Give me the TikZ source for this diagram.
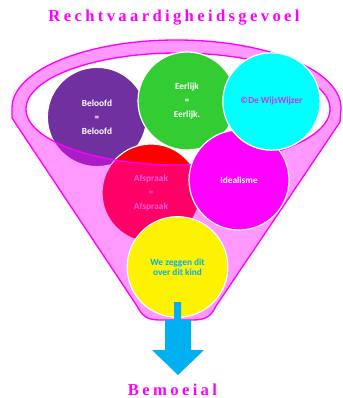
\documentclass[tikz,border=0pt]{standalone}
\usepackage{fontspec}
\setmainfont{Liberation Serif}
\newfontfamily\bubblefont{Carlito}
\usepackage{xcolor}
\usepackage{tikz}
\usetikzlibrary{positioning}

\definecolor{funnelmag}{RGB}{255,0,255}
\definecolor{belpurple}{RGB}{112,48,160}
\definecolor{eergreen}{RGB}{51,204,51}
\definecolor{wijscyan}{RGB}{0,255,255}
\definecolor{wijstext}{RGB}{204,51,230}
\definecolor{afspink}{RGB}{255,150,200}
\definecolor{pijlblue}{RGB}{0,176,240}

\begin{document}
\begin{tikzpicture}[x=0.75pt, y=-0.75pt,
    bubble/.style={circle, draw=white, line width=0.9pt, inner sep=0pt,
      minimum size=74pt, align=center, text=white,
      font=\bubblefont\bfseries\fontsize{7}{10.5}\selectfont},
    headline/.style={text=funnelmag, inner sep=0pt,
      font=\bfseries\fontsize{12.5}{14}\selectfont\addfontfeature{LetterSpace=20}}]
      \useasboundingbox[fill=white] (0,0) rectangle (342,398);

      % Title
      \node[headline] (title) at (174, 18) {Rechtvaardigheidsgevoel};

      % Circles behind the funnel front
      \node[bubble, fill=belpurple, minimum size=74.5pt] (beloofd) at (97, 117) {Beloofd\\=\\Beloofd};
      \node[bubble, fill=red, text=afspink, minimum size=73.5pt] (afspraak) at (151, 193) {Afspraak\\=\\Afspraak};

      % Funnel
      \path[fill=funnelmag, fill opacity=0.4, draw=funnelmag, line width=1pt, even odd rule]
        (12,118) -- (12,108) arc[start angle=180, end angle=360, x radius=164.5, y radius=68]
        -- (340,122) -- (216,306) .. controls (211,317) and (205,320) .. (192,320)
        -- (160,320) .. controls (147,320) and (142,316) .. (137,306) -- cycle
        (178,109) ellipse[x radius=152, y radius=56];

      % Circles in front
      \node[bubble, fill=eergreen, minimum size=73.5pt] (eerlijk) at (187, 101) {Eerlijk\\=\\Eerlijk.};
      \node[bubble, fill=funnelmag, minimum size=75pt] (ideaal) at (239, 180) {Idealisme};
      \node[bubble, fill=wijscyan, text=wijstext, minimum size=73pt] (wijzer) at (271.5, 101.5) {\textcopyright De WijsWijzer};
      \node[bubble, fill=yellow, text=pijlblue, minimum size=75.5pt,
        font=\bubblefont\bfseries\fontsize{7}{7.8}\selectfont] (kind) at (177.5, 267) {We zeggen dit\\over dit kind};

      % Arrow out of the funnel
      \fill[pijlblue] (174,302) -- (181,302) -- (181,320) -- (191,320) -- (191,350) -- (204,350)
        -- (178,375) -- (152,350) -- (165,350) -- (165,320) -- (174,320) -- cycle;

      \node[headline] (uitkomst) at (172.5, 390) {Bemoeial};
\end{tikzpicture}
\end{document}
